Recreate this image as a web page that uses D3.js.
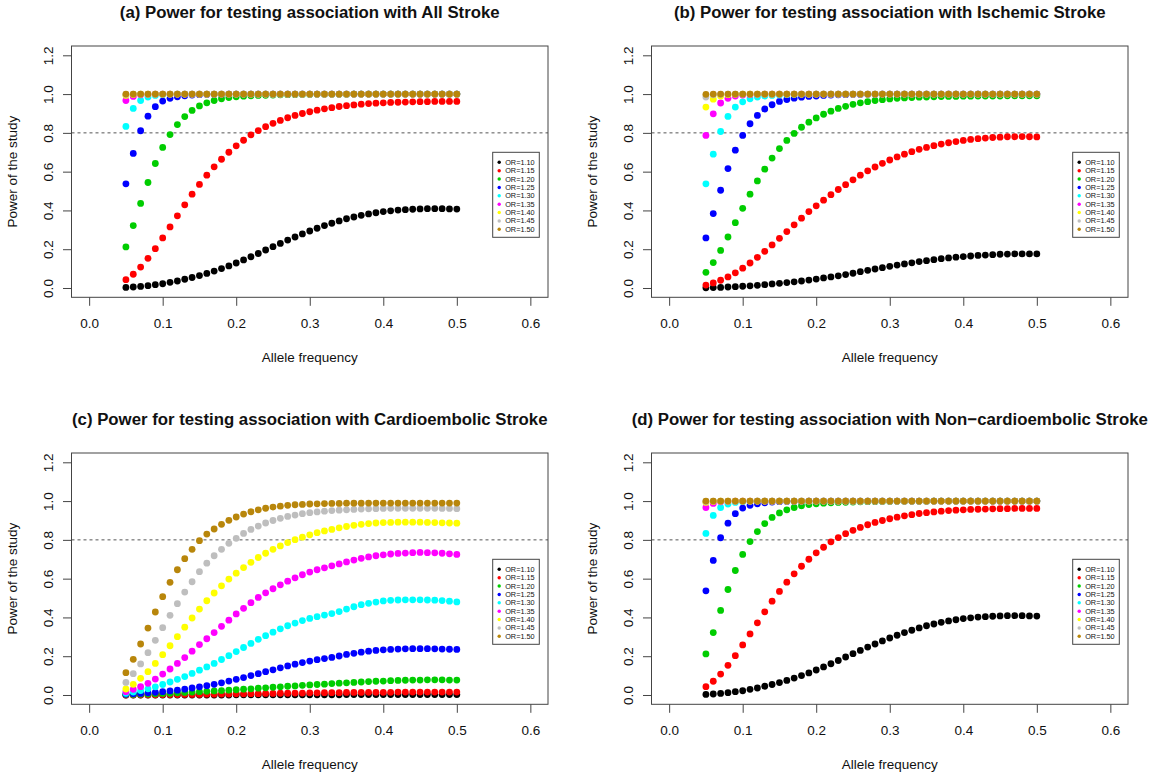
<!DOCTYPE html>
<html><head><meta charset="utf-8">
<script src="https://cdn.jsdelivr.net/npm/d3@7"></script>
<style>
body{margin:0;background:#fff}
svg{display:block}
text{font-family:"Liberation Sans",Arial,Helvetica,sans-serif;fill:#111}
</style>
</head><body>
<svg id="chart" width="1150" height="775"></svg>
<script>
// ---------- data ----------
const freq = [0.05,0.06,0.07,0.08,0.09,0.10,0.11,0.12,0.13,0.14,
              0.15,0.16,0.17,0.18,0.19,0.20,0.21,0.22,0.23,0.24,
              0.25,0.26,0.27,0.28,0.29,0.30,0.31,0.32,0.33,0.34,
              0.35,0.36,0.37,0.38,0.39,0.40,0.41,0.42,0.43,0.44,
              0.45,0.46,0.47,0.48,0.49,0.50];
const xTicks = [0.0,0.1,0.2,0.3,0.4,0.5,0.6];
const yTicks = [0.0,0.2,0.4,0.6,0.8,1.0,1.2];
const threshold = 0.8;
const orLabels = ["OR=1.10","OR=1.15","OR=1.20","OR=1.25","OR=1.30","OR=1.35","OR=1.40","OR=1.45","OR=1.50"];
const orColors = ["#000000","#FF0000","#00CD00","#0000FF","#00FFFF","#FF00FF","#FFFF00","#BEBEBE","#B8860B"];
const titles = [
  "(a) Power for testing association with All Stroke",
  "(b) Power for testing association with Ischemic Stroke",
  "(c) Power for testing association with Cardioembolic Stroke",
  "(d) Power for testing association with Non\u2212cardioembolic Stroke"
];
const xLabel = "Allele frequency";
const yLabel = "Power of the study";

// (a) All Stroke
const a110 = [.003,.005,.008,.012,.017,.022,.029,.036,.045,.054,.064,.075,.087,.100,.114,.129,.145,.161,.178,.196,.213,.230,.247,.263,.279,.294,.308,.322,.334,.346,.357,.366,.375,.382,.388,.394,.398,.402,.404,.406,.408,.409,.409,.409,.408,.407];
const a115 = [.043,.071,.108,.153,.203,.258,.315,.372,.429,.484,.534,.582,.625,.664,.700,.733,.762,.790,.812,.832,.849,.864,.878,.890,.900,.909,.917,.924,.930,.936,.940,.944,.948,.951,.953,.955,.957,.958,.959,.960,.961,.961,.962,.962,.962,.962];
const a120 = [.212,.322,.436,.544,.642,.725,.791,.843,.884,.916,.939,.955,.967,.976,.982,.986,.989,.991,.993,.994,.995,.996,.997,.997,.998,.998,.999,.999,.999,.999,.999,1,1,1,1,1,1,1,1,1,1,1,1,1,1,1];
const a125 = [.537,.694,.811,.886,.935,.964,.978,.986,.991,.995,.997,.998,.999,.999,1,1,1,1,1,1,1,1,1,1,1,1,1,1,1,1,1,1,1,1,1,1,1,1,1,1,1,1,1,1,1,1];
const a130 = [.833,.926,.967,.985,.993,.997,.999,1,1,1,1,1,1,1,1,1,1,1,1,1,1,1,1,1,1,1,1,1,1,1,1,1,1,1,1,1,1,1,1,1,1,1,1,1,1,1];
const a135 = [.967,.988,.996,.999,1,1,1,1,1,1,1,1,1,1,1,1,1,1,1,1,1,1,1,1,1,1,1,1,1,1,1,1,1,1,1,1,1,1,1,1,1,1,1,1,1,1];
const a140 = [.993,.998,1,1,1,1,1,1,1,1,1,1,1,1,1,1,1,1,1,1,1,1,1,1,1,1,1,1,1,1,1,1,1,1,1,1,1,1,1,1,1,1,1,1,1,1];
const a145 = [.998,1,1,1,1,1,1,1,1,1,1,1,1,1,1,1,1,1,1,1,1,1,1,1,1,1,1,1,1,1,1,1,1,1,1,1,1,1,1,1,1,1,1,1,1,1];
const a150 = [1,1,1,1,1,1,1,1,1,1,1,1,1,1,1,1,1,1,1,1,1,1,1,1,1,1,1,1,1,1,1,1,1,1,1,1,1,1,1,1,1,1,1,1,1,1];

// (b) Ischemic Stroke
const b110 = [.001,.002,.003,.005,.007,.009,.011,.014,.017,.021,.024,.028,.032,.036,.041,.046,.052,.057,.063,.069,.076,.084,.091,.098,.105,.112,.118,.124,.130,.136,.141,.146,.151,.155,.159,.162,.165,.168,.170,.172,.174,.175,.176,.176,.176,.176];
const b115 = [.015,.026,.040,.057,.078,.102,.129,.158,.189,.222,.256,.291,.326,.360,.394,.424,.453,.481,.508,.533,.558,.582,.604,.624,.643,.660,.676,.690,.703,.715,.725,.734,.742,.749,.755,.761,.766,.770,.773,.776,.778,.780,.780,.781,.780,.779];
const b120 = [.081,.131,.194,.263,.337,.411,.484,.552,.613,.670,.719,.761,.797,.829,.855,.877,.896,.912,.926,.937,.947,.955,.961,.967,.971,.975,.978,.980,.982,.984,.985,.986,.987,.988,.988,.989,.989,.990,.990,.990,.990,.991,.991,.991,.991,.991];
const b125 = [.258,.384,.504,.616,.711,.787,.847,.890,.923,.945,.962,.972,.979,.984,.988,.990,.993,.995,.996,.997,.998,.998,.999,.999,1,1,1,1,1,1,1,1,1,1,1,1,1,1,1,1,1,1,1,1,1,1];
const b130 = [.537,.690,.807,.885,.933,.960,.976,.985,.990,.993,.995,.997,.998,.999,.999,1,1,1,1,1,1,1,1,1,1,1,1,1,1,1,1,1,1,1,1,1,1,1,1,1,1,1,1,1,1,1];
const b135 = [.787,.898,.954,.978,.990,.995,.997,.999,1,1,1,1,1,1,1,1,1,1,1,1,1,1,1,1,1,1,1,1,1,1,1,1,1,1,1,1,1,1,1,1,1,1,1,1,1,1];
const b140 = [.933,.974,.990,.997,.999,1,1,1,1,1,1,1,1,1,1,1,1,1,1,1,1,1,1,1,1,1,1,1,1,1,1,1,1,1,1,1,1,1,1,1,1,1,1,1,1,1];
const b145 = [.985,.996,.999,1,1,1,1,1,1,1,1,1,1,1,1,1,1,1,1,1,1,1,1,1,1,1,1,1,1,1,1,1,1,1,1,1,1,1,1,1,1,1,1,1,1,1];
const b150 = [.999,1,1,1,1,1,1,1,1,1,1,1,1,1,1,1,1,1,1,1,1,1,1,1,1,1,1,1,1,1,1,1,1,1,1,1,1,1,1,1,1,1,1,1,1,1];

// (c) Cardioembolic Stroke
const c110 = [0,0,0,0,0,0,0,0,0,0,0,0,0,0,0,.001,.001,.001,.001,.001,.001,.001,.001,.001,.001,.001,.001,.001,.001,.001,.002,.002,.002,.002,.002,.002,.002,.002,.002,.002,.002,.002,.002,.002,.002,.002];
const c115 = [0,.001,.001,.001,.001,.002,.002,.002,.003,.003,.003,.004,.004,.005,.005,.006,.006,.007,.007,.008,.008,.009,.009,.010,.010,.011,.011,.012,.012,.012,.013,.013,.013,.014,.014,.014,.014,.015,.015,.015,.015,.015,.015,.015,.015,.015];
const c120 = [.002,.003,.004,.005,.006,.008,.009,.011,.013,.015,.017,.019,.021,.023,.025,.027,.030,.032,.035,.037,.040,.042,.045,.047,.050,.052,.054,.056,.059,.061,.063,.065,.067,.069,.071,.072,.074,.075,.076,.077,.077,.078,.078,.078,.077,.077];
const c125 = [.004,.006,.008,.011,.014,.017,.021,.025,.030,.036,.042,.048,.055,.063,.072,.081,.090,.100,.110,.120,.130,.140,.150,.159,.167,.175,.182,.188,.194,.201,.209,.215,.221,.226,.230,.233,.235,.237,.238,.239,.239,.239,.238,.237,.236,.235];
const c130 = [.009,.015,.023,.032,.042,.054,.067,.081,.095,.111,.128,.145,.163,.183,.203,.224,.245,.266,.287,.306,.324,.341,.357,.371,.384,.395,.404,.412,.420,.430,.443,.455,.466,.473,.479,.485,.488,.490,.491,.491,.491,.490,.489,.487,.484,.480];
const c135 = [.017,.029,.043,.060,.082,.108,.134,.163,.193,.226,.260,.290,.322,.354,.386,.418,.447,.476,.503,.527,.548,.568,.587,.604,.620,.634,.646,.656,.666,.676,.686,.696,.705,.712,.718,.723,.727,.730,.732,.734,.735,.734,.733,.731,.728,.725];
const c140 = [.031,.055,.086,.120,.163,.208,.254,.301,.350,.397,.443,.486,.526,.563,.598,.628,.657,.684,.709,.731,.751,.769,.786,.801,.814,.826,.837,.846,.854,.862,.869,.875,.880,.884,.887,.889,.890,.891,.891,.891,.891,.890,.889,.888,.887,.886];
const c145 = [.065,.110,.160,.218,.282,.347,.411,.471,.531,.584,.636,.680,.718,.751,.782,.808,.833,.854,.871,.887,.900,.911,.921,.928,.935,.940,.944,.948,.951,.953,.955,.957,.959,.960,.961,.962,.963,.963,.963,.963,.963,.963,.963,.962,.962,.961];
const c150 = [.115,.184,.263,.345,.428,.507,.581,.646,.703,.751,.796,.830,.856,.880,.901,.918,.933,.945,.955,.963,.969,.974,.978,.981,.983,.985,.986,.987,.988,.988,.989,.989,.989,.990,.990,.990,.990,.990,.990,.990,.990,.990,.990,.990,.990,.990];

// (d) Non-cardioembolic Stroke
const d110 = [.003,.005,.008,.012,.017,.022,.029,.036,.045,.054,.064,.075,.087,.100,.114,.129,.145,.161,.178,.196,.213,.230,.247,.263,.279,.294,.308,.322,.334,.346,.357,.366,.375,.382,.388,.394,.398,.402,.404,.406,.408,.409,.409,.409,.408,.407];
const d115 = [.043,.071,.108,.153,.203,.258,.315,.372,.429,.484,.534,.582,.625,.664,.700,.733,.762,.790,.812,.832,.849,.864,.878,.890,.900,.909,.917,.924,.930,.936,.940,.944,.948,.951,.953,.955,.957,.958,.959,.960,.961,.961,.962,.962,.962,.962];
const d120 = [.212,.322,.436,.544,.642,.725,.791,.843,.884,.916,.939,.955,.967,.976,.982,.986,.989,.991,.993,.994,.995,.996,.997,.997,.998,.998,.999,.999,.999,.999,.999,1,1,1,1,1,1,1,1,1,1,1,1,1,1,1];
const d125 = [.537,.694,.811,.886,.935,.964,.978,.986,.991,.995,.997,.998,.999,.999,1,1,1,1,1,1,1,1,1,1,1,1,1,1,1,1,1,1,1,1,1,1,1,1,1,1,1,1,1,1,1,1];
const d130 = [.833,.926,.967,.985,.993,.997,.999,1,1,1,1,1,1,1,1,1,1,1,1,1,1,1,1,1,1,1,1,1,1,1,1,1,1,1,1,1,1,1,1,1,1,1,1,1,1,1];
const d135 = [.967,.988,.996,.999,1,1,1,1,1,1,1,1,1,1,1,1,1,1,1,1,1,1,1,1,1,1,1,1,1,1,1,1,1,1,1,1,1,1,1,1,1,1,1,1,1,1];
const d140 = [.993,.998,1,1,1,1,1,1,1,1,1,1,1,1,1,1,1,1,1,1,1,1,1,1,1,1,1,1,1,1,1,1,1,1,1,1,1,1,1,1,1,1,1,1,1,1];
const d145 = [.998,1,1,1,1,1,1,1,1,1,1,1,1,1,1,1,1,1,1,1,1,1,1,1,1,1,1,1,1,1,1,1,1,1,1,1,1,1,1,1,1,1,1,1,1,1];
const d150 = [1,1,1,1,1,1,1,1,1,1,1,1,1,1,1,1,1,1,1,1,1,1,1,1,1,1,1,1,1,1,1,1,1,1,1,1,1,1,1,1,1,1,1,1,1,1];

// ---------- layout ----------
const panels = [
  {title: titles[0], series: [a110,a115,a120,a125,a130,a135,a140,a145,a150], ox: 0,   oy: 0},
  {title: titles[1], series: [b110,b115,b120,b125,b130,b135,b140,b145,b150], ox: 580, oy: 0},
  {title: titles[2], series: [c110,c115,c120,c125,c130,c135,c140,c145,c150], ox: 0,   oy: 407},
  {title: titles[3], series: [d110,d115,d120,d125,d130,d135,d140,d145,d150], ox: 580, oy: 407}
];

const svg = d3.select("#chart");
svg.append("rect").attr("width",1150).attr("height",775).attr("fill","#fff");

const BOX = {left:71.5, right:548, top:46, bottom:297.3};
const fmt = d3.format(".1f");

panels.forEach(p => {
  const L = p.ox + BOX.left, R = p.ox + BOX.right, T = p.oy + BOX.top, B = p.oy + BOX.bottom;
  const x = d3.scaleLinear().domain([-0.024, 0.624]).range([L, R]);
  const y = d3.scaleLinear().domain([-0.048, 1.248]).range([B, T]);
  const g = svg.append("g");

  // threshold line
  g.append("line")
    .attr("x1", L).attr("x2", R)
    .attr("y1", y(threshold)).attr("y2", y(threshold))
    .attr("stroke", "#555").attr("stroke-width", 1)
    .attr("stroke-dasharray", "3,3");

  // points
  p.series.forEach((vals, si) => {
    g.append("g").selectAll("circle")
      .data(vals.map((v, i) => [freq[i], v]))
      .join("circle")
      .attr("cx", d => x(d[0]))
      .attr("cy", d => y(d[1]))
      .attr("r", 3.4)
      .attr("fill", orColors[si]);
  });

  // box
  g.append("rect")
    .attr("x", L).attr("y", T).attr("width", R - L).attr("height", B - T)
    .attr("fill", "none").attr("stroke", "#444").attr("stroke-width", 1);

  // x axis
  const xa = g.append("g").attr("transform", `translate(0,${B})`)
    .call(d3.axisBottom(x).tickValues(xTicks).tickFormat(fmt).tickSize(8.5).tickPadding(12.5));
  xa.select(".domain").remove();
  xa.selectAll(".tick line").attr("stroke", "#444");
  xa.selectAll("text").attr("font-size", 13.5).attr("fill", "#111")
    .attr("font-family", '"Liberation Sans",Arial,sans-serif');

  // y axis
  const ya = g.append("g").attr("transform", `translate(${L},0)`)
    .call(d3.axisLeft(y).tickValues(yTicks).tickFormat(fmt).tickSize(8.5));
  ya.select(".domain").remove();
  ya.selectAll(".tick line").attr("stroke", "#444");
  ya.selectAll("text")
    .attr("x", null).attr("dy", null)
    .attr("text-anchor", "middle")
    .attr("transform", "translate(-18.5,0) rotate(-90)")
    .attr("font-size", 13.5).attr("fill", "#111")
    .attr("font-family", '"Liberation Sans",Arial,sans-serif');

  // title
  g.append("text")
    .attr("x", (L + R) / 2).attr("y", p.oy + 17.5)
    .attr("text-anchor", "middle")
    .attr("font-size", 16.8).attr("font-weight", "bold")
    .text(p.title);

  // axis labels
  g.append("text")
    .attr("x", (L + R) / 2).attr("y", p.oy + 361.5)
    .attr("text-anchor", "middle").attr("font-size", 13.5)
    .text(xLabel);
  g.append("text")
    .attr("transform", `translate(${p.ox + 17},${(T + B) / 2}) rotate(-90)`)
    .attr("text-anchor", "middle").attr("font-size", 13.5)
    .text(yLabel);

  // legend
  const lx = L + 421.2, ly = T + 106.3;
  const lg = g.append("g");
  lg.append("rect").attr("x", lx).attr("y", ly).attr("width", 46.6).attr("height", 85)
    .attr("fill", "#fff").attr("stroke", "#444").attr("stroke-width", 1);
  orLabels.forEach((lab, i) => {
    const cy = ly + 10 + i * 8.375;
    lg.append("circle").attr("cx", lx + 6.5).attr("cy", cy).attr("r", 1.7).attr("fill", orColors[i]);
    lg.append("text").attr("x", lx + 12.5).attr("y", cy).attr("dy", "0.35em")
      .attr("font-size", 7.3).attr("fill", "#333").text(lab);
  });
});
</script>
</body></html>
